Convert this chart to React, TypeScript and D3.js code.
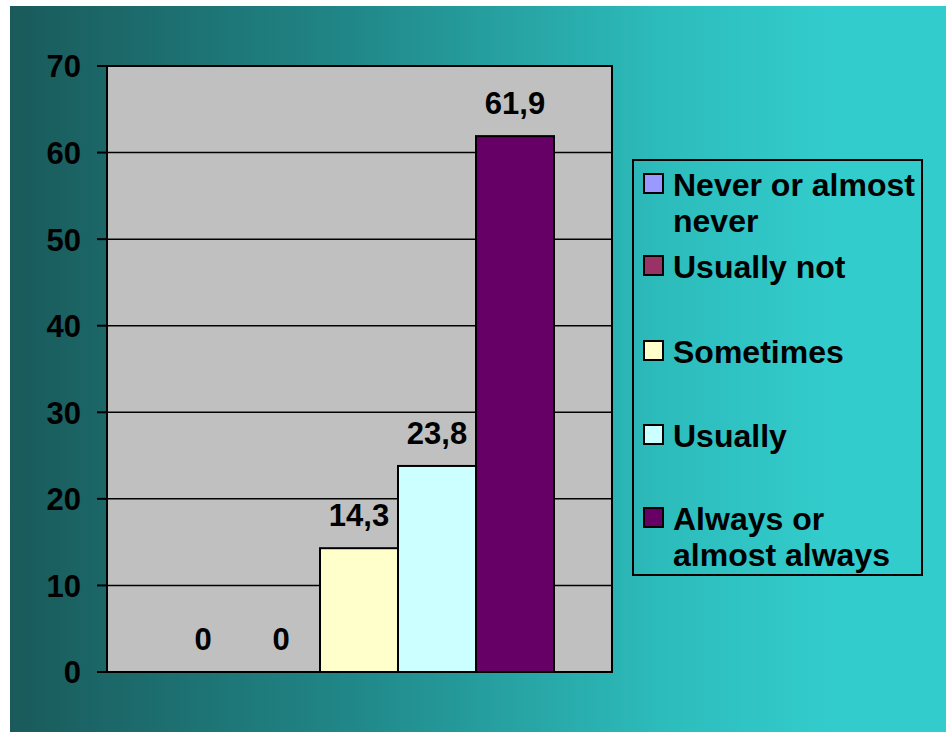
import React from "react";
import * as d3 from "d3";

const seriesNames = ["Never or almost never", "Usually not", "Sometimes", "Usually", "Always or almost always"];
const legendLines = [["Never or almost", "never"], ["Usually not"], ["Sometimes"], ["Usually"], ["Always or", "almost always"]];
const seriesValues = [0, 0, 14.3, 23.8, 61.9];
const valueLabels = ["0", "0", "14,3", "23,8", "61,9"];
const seriesColors = ["#9999ff", "#993366", "#ffffcc", "#ccffff", "#660066"];
const yTicks = [0, 10, 20, 30, 40, 50, 60, 70];

const W = 946, H = 732;
const plot = { left: 107, top: 66, right: 612, bottom: 672 };
const FONT = "'Liberation Sans', Arial, Helvetica, sans-serif";

export default function App() {
  const y = d3.scaleLinear().domain([0, 70]).range([plot.bottom, plot.top]);
  const x = d3.scaleBand<string>().domain(seriesNames).range([164, 554]).paddingInner(0);
  const legendBaselines = [196, 278, 363, 447, 530];
  return (
    <div style={{ position: "fixed", left: 0, top: 0 }}>
      <svg width={W} height={H} style={{ display: "block" }}>
        <defs>
          <linearGradient id="bg" x1="0" x2="1" y1="0" y2="0">
            <stop offset="0" stopColor="#1a5a5b" />
            <stop offset="0.35" stopColor="#208586" />
            <stop offset="0.7" stopColor="#2dbcbc" />
            <stop offset="0.88" stopColor="#33cccc" />
            <stop offset="1" stopColor="#33cccc" />
          </linearGradient>
        </defs>
        <rect x={0} y={0} width={W} height={H} fill="#ffffff" />
        <rect x={10} y={6} width={W - 10} height={H - 6} fill="url(#bg)" />
        <rect x={plot.left} y={plot.top} width={plot.right - plot.left} height={plot.bottom - plot.top} fill="#c0c0c0" />
        {yTicks.map((t) => (
          <g key={t}>
            {t > 0 && <line x1={plot.left} x2={plot.right} y1={y(t)} y2={y(t)} stroke="#000" strokeWidth={1.5} />}
            <line x1={97} x2={plot.left} y1={y(t)} y2={y(t)} stroke="#000" strokeWidth={2} />
            <text x={81} y={y(t)} dy="0.37em" textAnchor="end" fontFamily={FONT} fontWeight="bold" fontSize={31} fill="#000">{t}</text>
          </g>
        ))}
        {seriesNames.map((s, i) => (
          seriesValues[i] > 0 ? (
            <rect key={s} x={x(s)} y={y(seriesValues[i])} width={x.bandwidth()} height={plot.bottom - y(seriesValues[i])} fill={seriesColors[i]} stroke="#000" strokeWidth={2} />
          ) : null
        ))}
        <rect x={plot.left} y={plot.top} width={plot.right - plot.left} height={plot.bottom - plot.top} fill="none" stroke="#000" strokeWidth={2} />
        {seriesNames.map((s, i) => (
          <text key={s} x={(x(s) as number) + x.bandwidth() / 2} y={y(seriesValues[i]) - 22} textAnchor="middle" fontFamily={FONT} fontWeight="bold" fontSize={31} fill="#000">{valueLabels[i]}</text>
        ))}
        <rect x={633} y={160} width={289} height={415} fill="none" stroke="#000" strokeWidth={2} />
        {seriesNames.map((s, i) => (
          <g key={s}>
            <rect x={644} y={legendBaselines[i] - 22} width={19} height={19} fill={seriesColors[i]} stroke="#000" strokeWidth={2} />
            {legendLines[i].map((ln, j) => (
              <text key={j} x={673} y={legendBaselines[i] + j * 36} fontFamily={FONT} fontWeight="bold" fontSize={32} fill="#000">{ln}</text>
            ))}
          </g>
        ))}
      </svg>
    </div>
  );
}
